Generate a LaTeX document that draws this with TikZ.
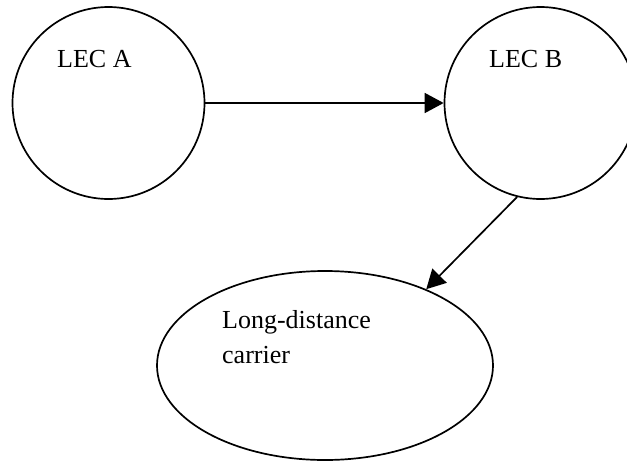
\documentclass[tikz,border=0pt]{standalone}
\usepackage{fontspec}
\setmainfont{Liberation Serif}
\usetikzlibrary{shapes.geometric,arrows.meta}
\tikzset{
  ring/.style={draw, circle, line width=1.7pt, minimum size=192pt, inner sep=0pt},
  oval/.style={draw, ellipse, line width=1.7pt, minimum width=336pt, minimum height=189pt, inner sep=0pt},
  lbl/.style={anchor=base west, inner sep=0pt, font=\fontsize{26}{34}\selectfont, align=left},
  link/.style={line width=1.7pt, -{Triangle[length=19pt,width=20pt]}}
}
\begin{document}
\begin{tikzpicture}[x=1pt,y=-1pt]
\useasboundingbox (0,0) rectangle (627,461);
\node[ring] (A) at (108.5,103) {};
\node[ring] (B) at (540.5,103) {};
\node[oval] (E) at (325,365.5) {};
\node[lbl] (tA) at (57,67) {LEC A};
\node[lbl] (tB) at (489,67) {LEC B};
\node[lbl] (tE1) at (222,328) {Long-distance};
\node[lbl] (tE2) at (222,363) {carrier};
\draw[link] (A.east) -- (B.west);
\draw[link] (B.256) -- (E.37.6);
\end{tikzpicture}
\end{document}
